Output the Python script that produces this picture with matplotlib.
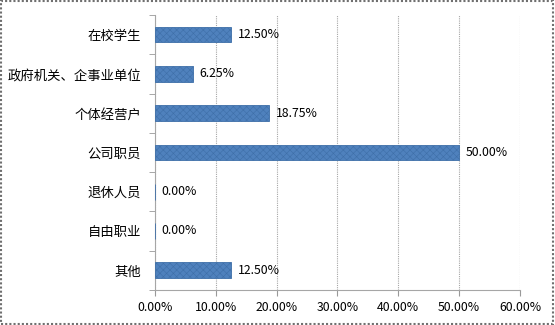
import numpy as np
import matplotlib.pyplot as plt
from matplotlib.patches import Rectangle
from matplotlib.ticker import FuncFormatter

plt.rcParams['font.family'] = ['Noto Sans CJK SC', 'DejaVu Sans']
plt.rcParams['hatch.linewidth'] = 0.4
plt.rcParams['hatch.color'] = '#2F5F98'

# 数据
categories = ['在校学生', '政府机关、企事业单位', '个体经营户', '公司职员', '退休人员', '自由职业', '其他']
values = [12.50, 6.25, 18.75, 50.00, 0.00, 0.00, 12.50]
xticks = [0, 10, 20, 30, 40, 50, 60]

fig = plt.figure(figsize=(5.55, 3.25), dpi=100)
ax = fig.add_axes([0.279, 0.108, 0.658, 0.846])

y = np.arange(len(categories))
ax.barh(y, values, height=0.4, color='#4F81BD', edgecolor='#3E6FA8',
        hatch='xxxxx', linewidth=0.6, zorder=3)

for yi, v in zip(y, values):
    ax.text(v + 1.1, yi, f'{v:.2f}%', va='center', ha='left', fontsize=8.8, zorder=4)

ax.set_ylim(len(categories) - 0.5, -0.5)
ax.set_xlim(0, 60)
ax.set_yticks(y)
ax.set_yticklabels(categories, fontsize=9.6)
ax.set_yticks(np.arange(-0.5, len(categories), 1), minor=True)
ax.tick_params(axis='y', which='major', length=0, pad=10)
ax.tick_params(axis='y', which='minor', length=4, color='#999999')
ax.set_xticks(xticks)
ax.xaxis.set_major_formatter(FuncFormatter(lambda v, p: f'{v:.2f}%'))
ax.tick_params(axis='x', labelsize=8.8, length=4, color='#999999', pad=4)

ax.grid(axis='x', color='#A6A6A6', linestyle=(0, (1, 1)), linewidth=0.8, zorder=0)
for s in ['top', 'right']:
    ax.spines[s].set_visible(False)
for s in ['left', 'bottom']:
    ax.spines[s].set_color('#A6A6A6')
    ax.spines[s].set_linewidth(0.8)

# 外框
fig.patches.append(Rectangle((0.002, 0.004), 0.995, 0.992, transform=fig.transFigure,
                             fill=False, edgecolor='#6F6F6F', linewidth=1.5,
                             linestyle=(0, (1, 1))))

fig.savefig('out.png', dpi=100)
